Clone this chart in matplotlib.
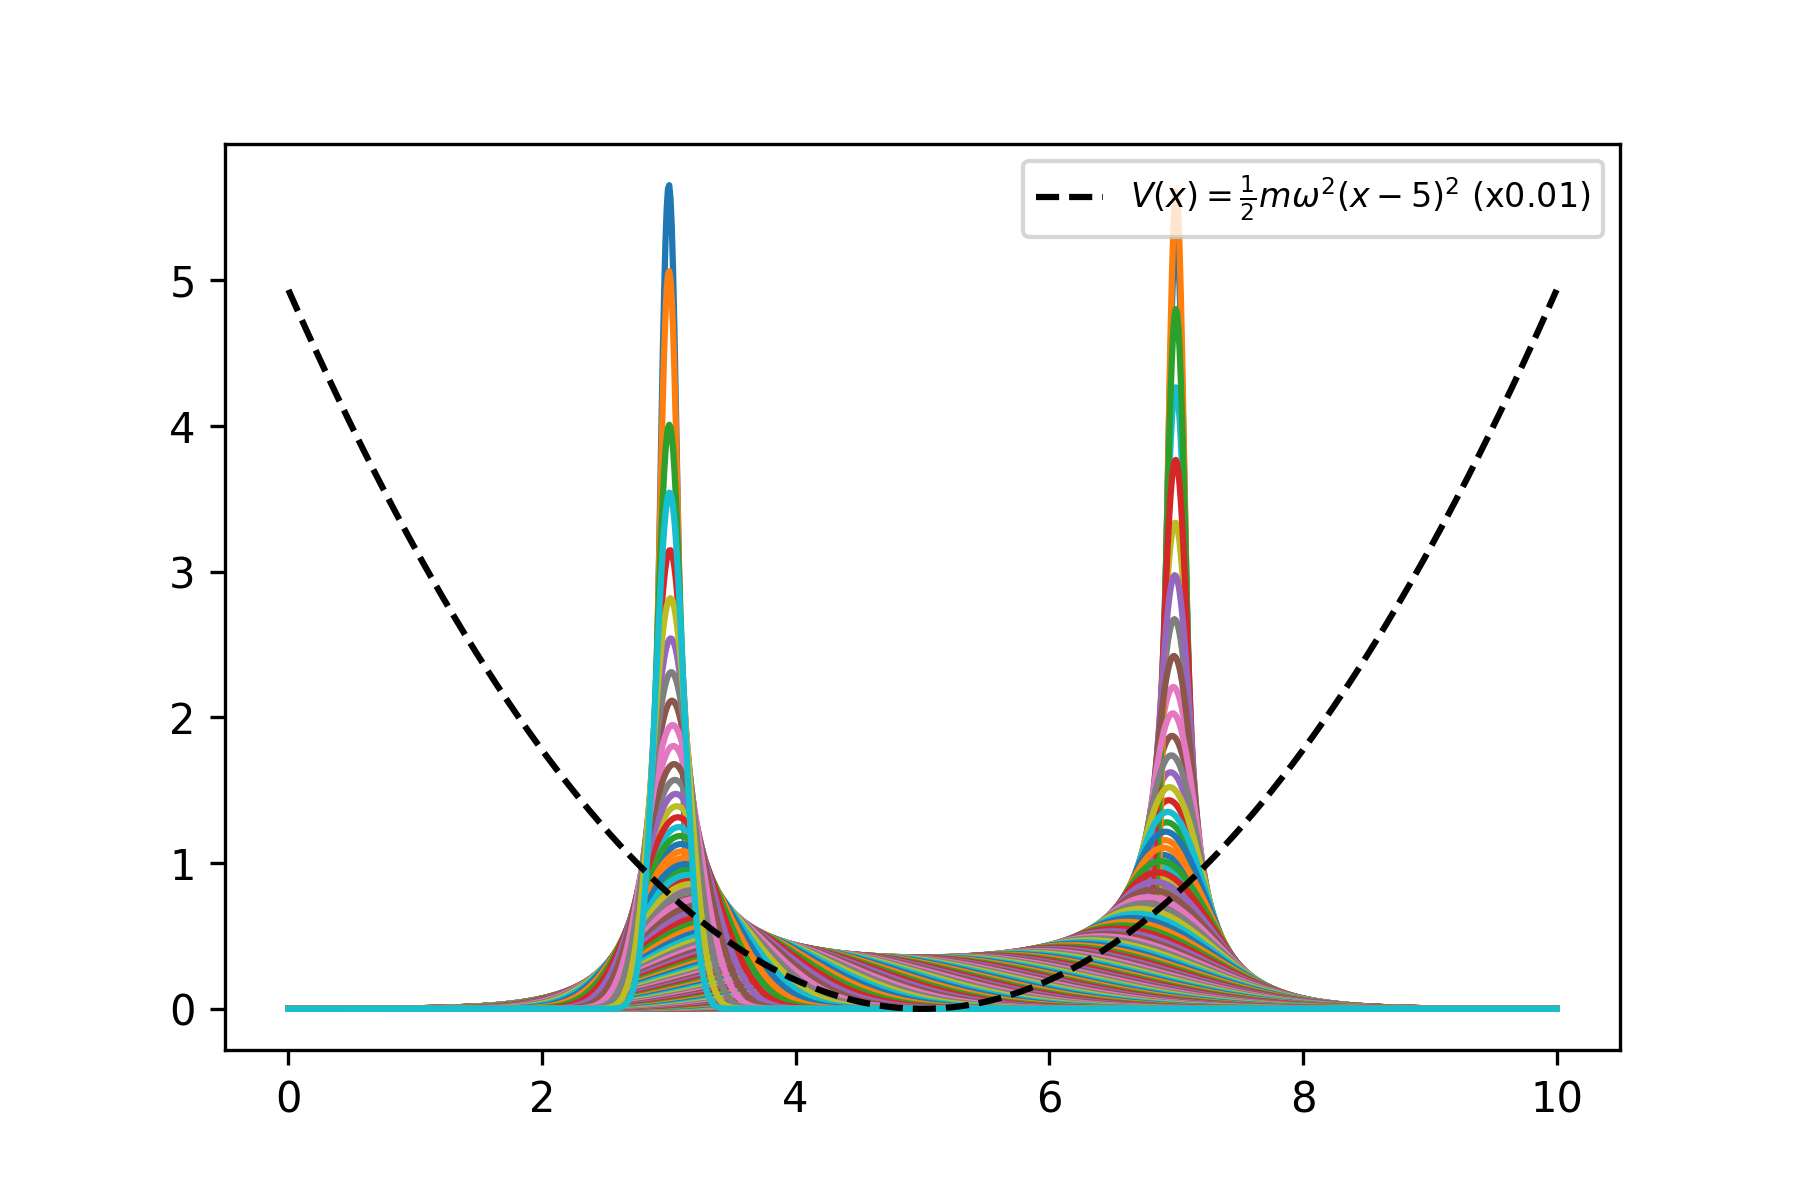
import numpy as np
import matplotlib
matplotlib.use('Agg')
import matplotlib.pyplot as plt

# values
x_min, x_max = 0.0, 10.0          # grid the curves are drawn on
x_centre = 5.0                     # bottom of the well
turning_points = [3.0, 7.0]        # packet bounces between these
sigma_turn = 0.0705                # packet width at the turning points (peak ~5.66)
hbar, mass = 1.0, 1.0
omega = 2 * np.pi                  # V(0) ~ 4.93 with the x0.01 scale
v_scale = 0.01
n_curves = 200                     # number of snapshots drawn
frames_per_period = 201.5          # packet is back at x=3 after ~201 snapshots

x = np.linspace(x_min, x_max, 1000)

#width of the squeezed packet half way across
sigma_mid = hbar / (2 * mass * omega * sigma_turn)
amp = (turning_points[1] - turning_points[0]) / 2.0

fig = plt.figure(figsize=(6, 4), dpi=300)
ax = fig.add_axes([0.125, 0.125, 0.775, 0.755])

for k in range(n_curves):
    theta = 2 * np.pi * k / frames_per_period
    xc = x_centre - amp * np.cos(theta)
    sig = np.sqrt((sigma_turn * np.cos(theta))**2 + (sigma_mid * np.sin(theta))**2)
    prob = np.exp(-(x - xc)**2 / (2 * sig**2)) / (sig * np.sqrt(2 * np.pi))
    ax.plot(x, prob, lw=1.5)

V = 0.5 * mass * omega**2 * (x - x_centre)**2 * v_scale
ax.plot(x, V, 'k--', lw=1.5, label=r'$V(x) = \frac{1}{2}m\omega^2(x-5)^2$ (x0.01)')

ax.legend(loc='upper right', fontsize=8)
fig.savefig('out.png', dpi=300)
